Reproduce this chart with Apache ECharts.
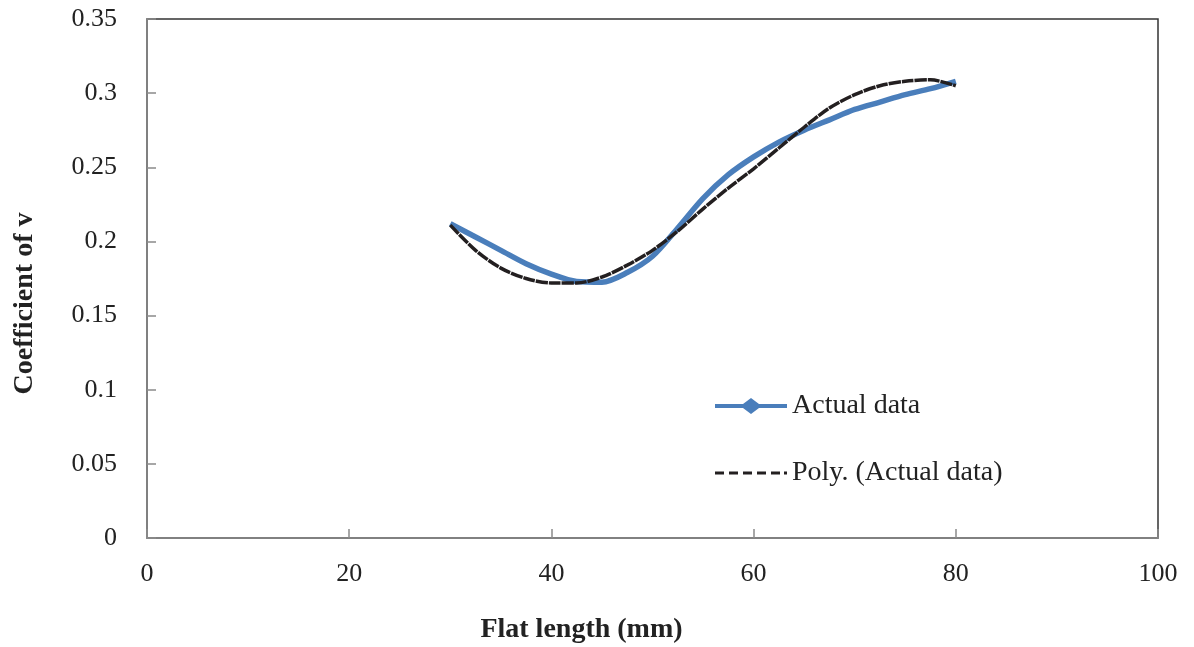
<!DOCTYPE html>
<html>
<head>
<meta charset="utf-8">
<script src="https://cdn.jsdelivr.net/npm/echarts@6/dist/echarts.min.js"></script>
<style>
html,body{margin:0;padding:0;background:#fff;}
#chart{width:1194px;height:647px;}
</style>
</head>
<body>
<div id="chart"></div>
<script>
// Actual data (Flat length mm -> Coefficient of v)
const actualX = [30, 32.5, 35, 37.5, 40, 42.5, 45, 47.5, 50, 52.5, 55, 57.5, 60, 62.5, 65, 67.5, 70, 72.5, 75, 77.5, 80];
const actualY = [0.212, 0.203, 0.194, 0.185, 0.178, 0.173, 0.1725, 0.179, 0.190, 0.209, 0.229, 0.245, 0.257, 0.267, 0.275, 0.282, 0.289, 0.294, 0.299, 0.303, 0.308];
// Polynomial trendline
const polyX = [30, 32.5, 35, 37.5, 40, 42.5, 45, 47.5, 50, 52.5, 55, 57.5, 60, 62.5, 65, 67.5, 70, 72.5, 75, 77.5, 80];
const polyY = [0.211, 0.194, 0.182, 0.175, 0.172, 0.172, 0.176, 0.184, 0.194, 0.207, 0.222, 0.236, 0.249, 0.263, 0.277, 0.290, 0.299, 0.305, 0.308, 0.309, 0.305];
const seriesNames = ['Actual data', 'Poly. (Actual data)'];
const xTitle = 'Flat length (mm)';
const yTitle = 'Coefficient of v';

const chart = echarts.init(document.getElementById('chart'), null, {renderer: 'canvas'});
const font = 'Liberation Serif';
const legendText = {fontFamily: font, fontSize: 28, color: '#222222'};
const option = {
  animation: false,
  backgroundColor: '#ffffff',
  grid: {left: 147, right: 36, top: 19, bottom: 109, show: true, borderColor: '#333333', borderWidth: 1.5,
         containLabel: false, outerBoundsMode: 'none'},
  legend: [
    {
      left: 710, top: 387, itemWidth: 72, itemHeight: 16, textStyle: legendText,
      data: [{name: seriesNames[0], icon: 'path://M0,6H28L36,0L44,6H72V10H44L36,16L28,10H0Z'}]
    },
    {
      left: 710, top: 454, itemWidth: 72, itemHeight: 3, textStyle: legendText,
      data: [{name: seriesNames[1], icon: 'path://M0,0h9v3h-9z M14,0h9v3h-9z M28,0h9v3h-9z M42,0h9v3h-9z M56,0h9v3h-9z M69,0h3v3h-3z'}]
    }
  ],
  xAxis: {
    type: 'value', min: 0, max: 100, interval: 20,
    name: xTitle, nameLocation: 'middle', nameGap: 78,
    nameTextStyle: {fontFamily: font, fontSize: 28, fontWeight: 'bold', color: '#222222', padding: [0, 142, 0, 0]},
    axisLine: {show: true, lineStyle: {color: '#8a8a8a', width: 1.5}},
    axisTick: {show: true, inside: true, length: 9, lineStyle: {color: '#8a8a8a', width: 1.5}},
    axisLabel: {fontFamily: font, fontSize: 26, color: '#222222', margin: 23},
    splitLine: {show: false}
  },
  yAxis: {
    type: 'value', min: 0, max: 0.35, interval: 0.05,
    name: yTitle, nameLocation: 'middle', nameGap: 108, nameRotate: 90,
    nameTextStyle: {fontFamily: font, fontSize: 28, fontWeight: 'bold', color: '#222222', padding: [0, 50, 0, 0]},
    axisLine: {show: true, lineStyle: {color: '#8a8a8a', width: 1.5}},
    axisTick: {show: true, inside: true, length: 9, lineStyle: {color: '#8a8a8a', width: 1.5}},
    axisLabel: {fontFamily: font, fontSize: 26, color: '#222222', margin: 30, padding: [4, 0, 0, 0]},
    splitLine: {show: false}
  },
  series: [
    {
      name: seriesNames[0], type: 'line', smooth: 0.3,
      symbol: 'diamond', symbolSize: 14, showSymbol: false,
      itemStyle: {color: '#4a7ebb'},
      lineStyle: {color: '#4a7ebb', width: 5.5},
      data: actualX.map((x, i) => [x, actualY[i]]),
      z: 2
    },
    {
      name: seriesNames[1], type: 'line', smooth: 0.3,
      symbol: 'none',
      itemStyle: {color: '#231f20'},
      lineStyle: {color: '#231f20', width: 3.5, type: [12, 1]},
      data: polyX.map((x, i) => [x, polyY[i]]),
      z: 3
    }
  ]
};
chart.setOption(option);
</script>
</body>
</html>
